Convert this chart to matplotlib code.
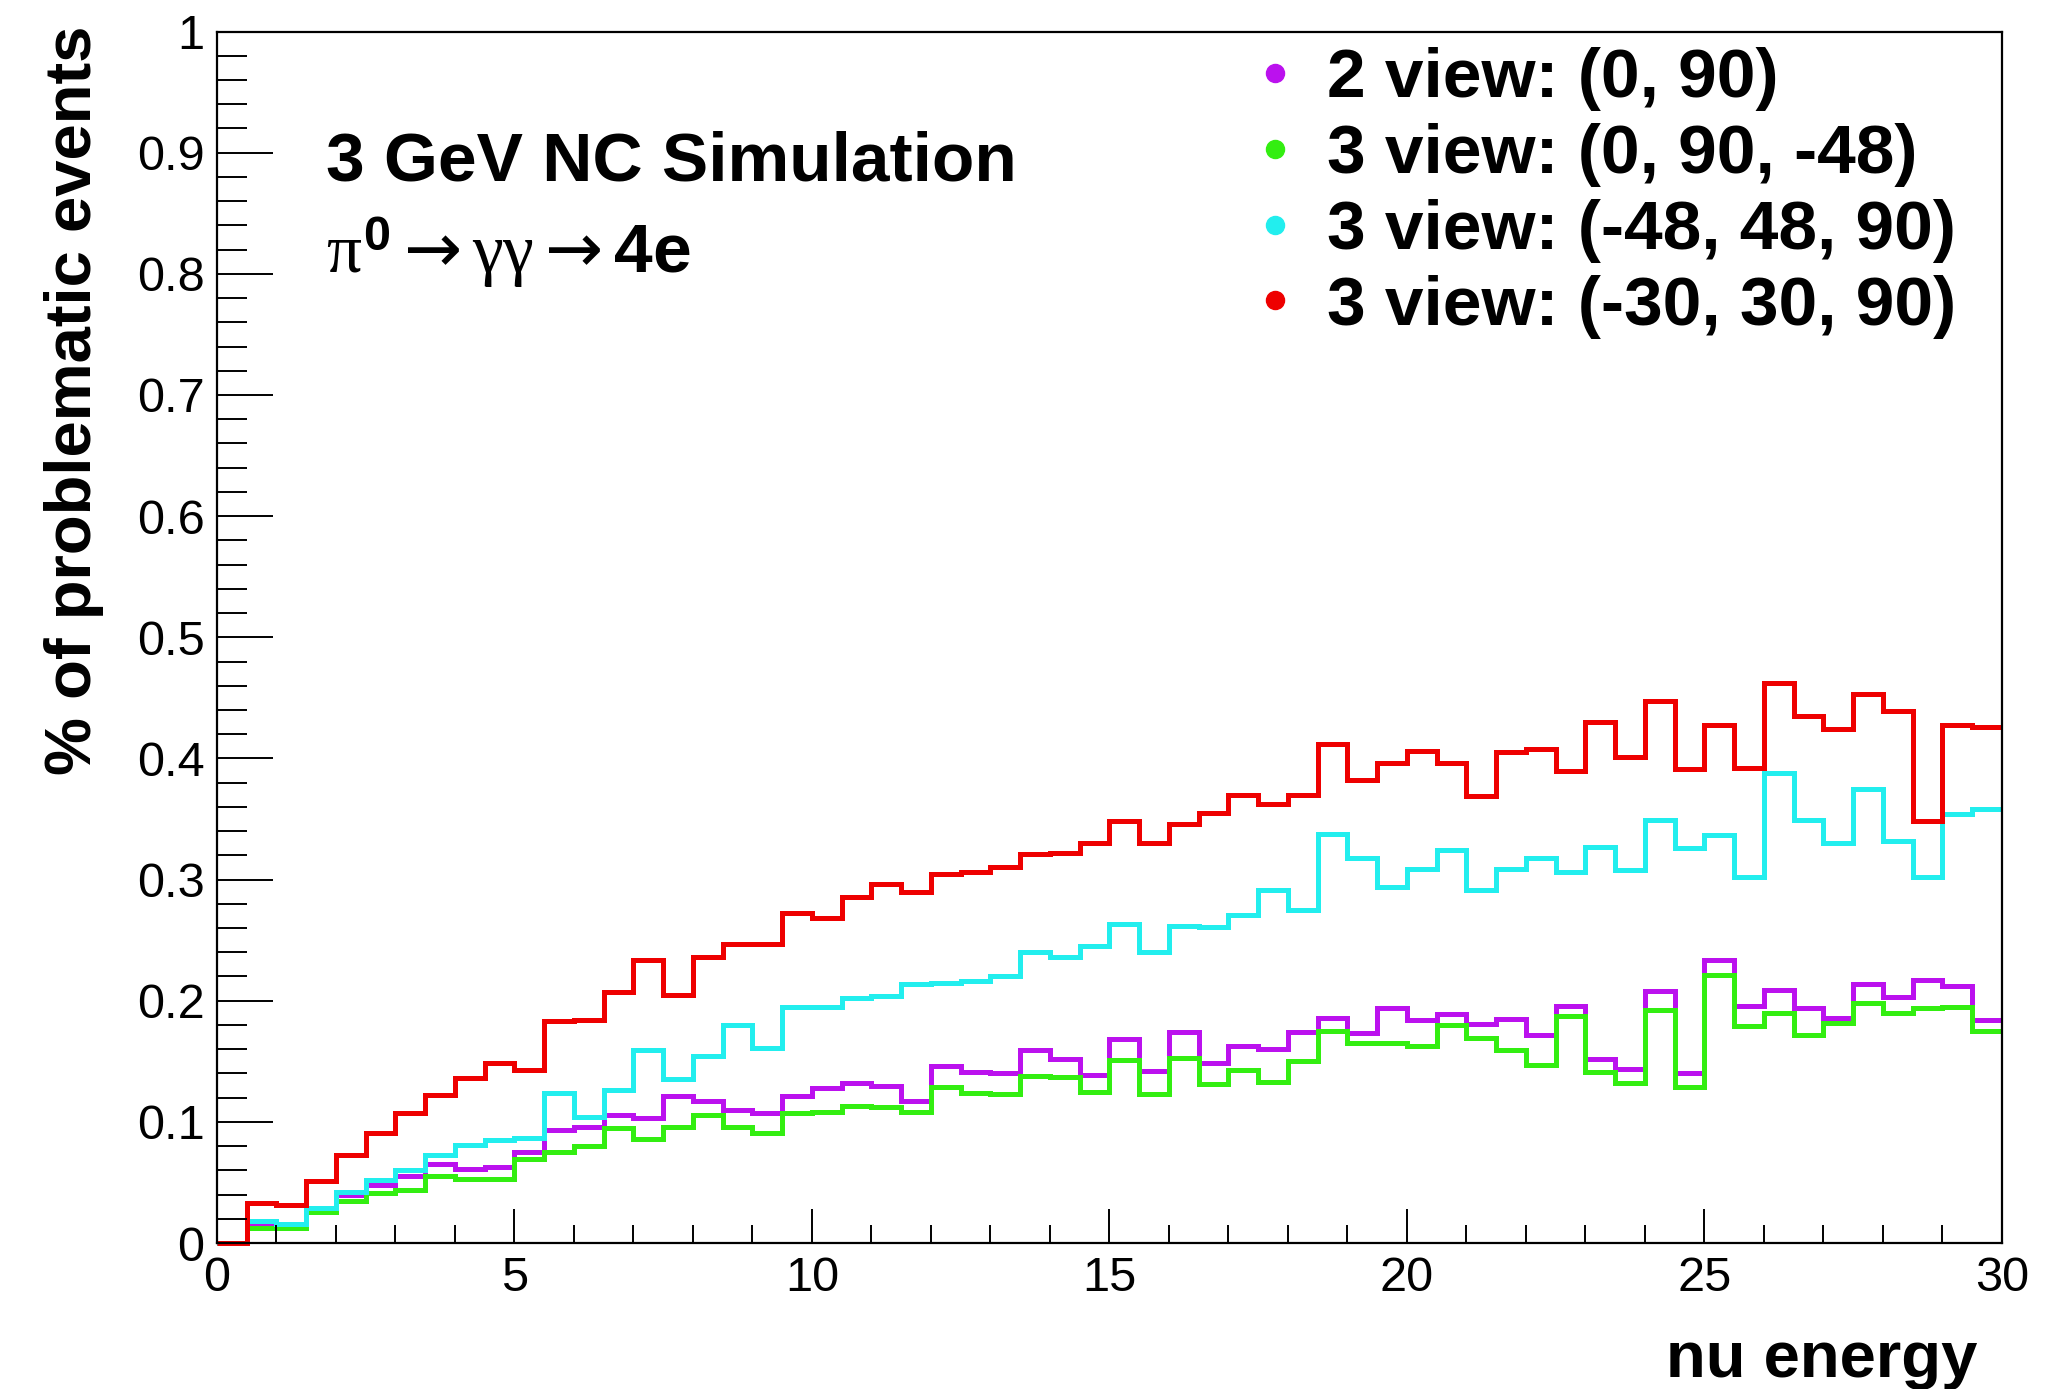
import numpy as np
import matplotlib.pyplot as plt
from matplotlib.lines import Line2D
from matplotlib.ticker import MultipleLocator, FuncFormatter

plt.rcParams['font.family'] = ['Liberation Sans', 'DejaVu Sans']
plt.rcParams['mathtext.fontset'] = 'custom'
plt.rcParams['mathtext.it'] = 'Liberation Serif'
plt.rcParams['mathtext.rm'] = 'Liberation Serif'
plt.rcParams['mathtext.bf'] = 'Liberation Sans:bold'
plt.rcParams['mathtext.sf'] = 'DejaVu Sans'

# 60 bins of 0.5 between 0 and 30 (nu energy)
bin_edges = np.arange(0, 30.01, 0.5)

view2_0_90 = [0.0, 0.014, 0.013, 0.029, 0.040, 0.048, 0.055, 0.065, 0.061, 0.063,
              0.075, 0.093, 0.096, 0.106, 0.103, 0.121, 0.117, 0.110, 0.107, 0.121,
              0.128, 0.132, 0.130, 0.117, 0.146, 0.141, 0.140, 0.159, 0.152, 0.139,
              0.168, 0.142, 0.174, 0.149, 0.163, 0.160, 0.174, 0.186, 0.173, 0.194,
              0.184, 0.189, 0.181, 0.185, 0.172, 0.196, 0.152, 0.144, 0.208, 0.140,
              0.234, 0.196, 0.209, 0.194, 0.186, 0.214, 0.203, 0.217, 0.212, 0.184]

view3_0_90_m48 = [0.0, 0.012, 0.012, 0.026, 0.035, 0.041, 0.044, 0.055, 0.053, 0.053,
                  0.069, 0.075, 0.080, 0.095, 0.086, 0.096, 0.106, 0.096, 0.091, 0.107,
                  0.108, 0.113, 0.112, 0.108, 0.129, 0.124, 0.123, 0.138, 0.137, 0.125,
                  0.151, 0.123, 0.153, 0.131, 0.143, 0.133, 0.150, 0.175, 0.165, 0.165,
                  0.163, 0.180, 0.169, 0.159, 0.147, 0.187, 0.141, 0.132, 0.192, 0.129,
                  0.221, 0.179, 0.190, 0.172, 0.182, 0.198, 0.190, 0.194, 0.195, 0.175]

view3_m48_48_90 = [0.0, 0.018, 0.016, 0.029, 0.042, 0.052, 0.060, 0.073, 0.081, 0.085,
                   0.087, 0.124, 0.104, 0.126, 0.159, 0.135, 0.154, 0.180, 0.161, 0.195,
                   0.195, 0.202, 0.204, 0.214, 0.215, 0.216, 0.220, 0.240, 0.236, 0.245,
                   0.263, 0.240, 0.262, 0.261, 0.271, 0.291, 0.275, 0.338, 0.318, 0.294,
                   0.309, 0.324, 0.291, 0.309, 0.318, 0.306, 0.327, 0.308, 0.349, 0.326,
                   0.337, 0.302, 0.388, 0.349, 0.330, 0.375, 0.332, 0.302, 0.354, 0.358]

view3_m30_30_90 = [0.0, 0.033, 0.031, 0.051, 0.073, 0.091, 0.107, 0.122, 0.136, 0.149,
                   0.143, 0.183, 0.184, 0.207, 0.234, 0.205, 0.236, 0.247, 0.247, 0.272,
                   0.268, 0.286, 0.296, 0.290, 0.305, 0.306, 0.310, 0.321, 0.322, 0.330,
                   0.348, 0.330, 0.346, 0.355, 0.370, 0.362, 0.370, 0.412, 0.382, 0.396,
                   0.406, 0.396, 0.369, 0.405, 0.408, 0.390, 0.430, 0.401, 0.447, 0.391,
                   0.428, 0.392, 0.462, 0.435, 0.424, 0.453, 0.439, 0.348, 0.428, 0.426]

labels = ['2 view: (0, 90)', '3 view: (0, 90, -48)',
          '3 view: (-48, 48, 90)', '3 view: (-30, 30, 90)']
colors = ['#BB11EE', '#33EE11', '#22EEEE', '#EE0000']
series = [view2_0_90, view3_0_90_m48, view3_m48_48_90, view3_m30_30_90]

fig = plt.figure(figsize=(20.6, 13.89), dpi=100)
ax = fig.add_axes([0.1053, 0.1051, 0.8665, 0.8722])

for vals, col in zip(series, colors):
    ax.stairs(vals, bin_edges, baseline=None, color=col, lw=3.6, clip_on=False)

ax.set_xlim(0, 30)
ax.set_ylim(0, 1)
for s in ax.spines.values():
    s.set_linewidth(1.6)

ax.xaxis.set_major_locator(MultipleLocator(5))
ax.xaxis.set_minor_locator(MultipleLocator(1))
ax.yaxis.set_major_locator(MultipleLocator(0.1))
ax.yaxis.set_minor_locator(MultipleLocator(0.02))
fmt = FuncFormatter(lambda v, p: f'{v:g}')
ax.xaxis.set_major_formatter(fmt)
ax.yaxis.set_major_formatter(fmt)
ax.tick_params(axis='x', which='major', direction='in', length=24.5, width=1.4, labelsize=35, pad=9)
ax.tick_params(axis='x', which='minor', direction='in', length=13, width=1.4)
ax.tick_params(axis='y', which='major', direction='in', length=40, width=1.4, labelsize=35, pad=9)
ax.tick_params(axis='y', which='minor', direction='in', length=21.6, width=1.4)

ax.set_ylabel('% of problematic events', fontsize=47, fontweight='bold', loc='top')
ax.yaxis.set_label_coords(-0.063, 1.005)
ax.set_xlabel('nu energy', fontsize=47, fontweight='bold', loc='right')
ax.xaxis.set_label_coords(0.986, -0.072)

ax.text(0.061, 0.877, '3 GeV NC Simulation', transform=ax.transAxes,
        fontsize=50, fontweight='bold', va='baseline')
ax.text(0.061, 0.801, r'$\pi^{\mathbf{0}}{\mathsf{\rightarrow}}\gamma\gamma{\mathsf{\rightarrow}}$4e',
        transform=ax.transAxes, fontsize=50, fontweight='bold', va='baseline')

handles = [Line2D([], [], ls='none', marker='o', ms=13, color=c) for c in colors]
ax.legend(handles, labels, loc='upper left', bbox_to_anchor=(0.581, 0.987),
          frameon=False, prop={'weight': 'bold', 'size': 50},
          handlelength=0.6, handletextpad=0.45, labelspacing=0.17,
          borderpad=0, borderaxespad=0)

fig.savefig('out.png', dpi=100)
